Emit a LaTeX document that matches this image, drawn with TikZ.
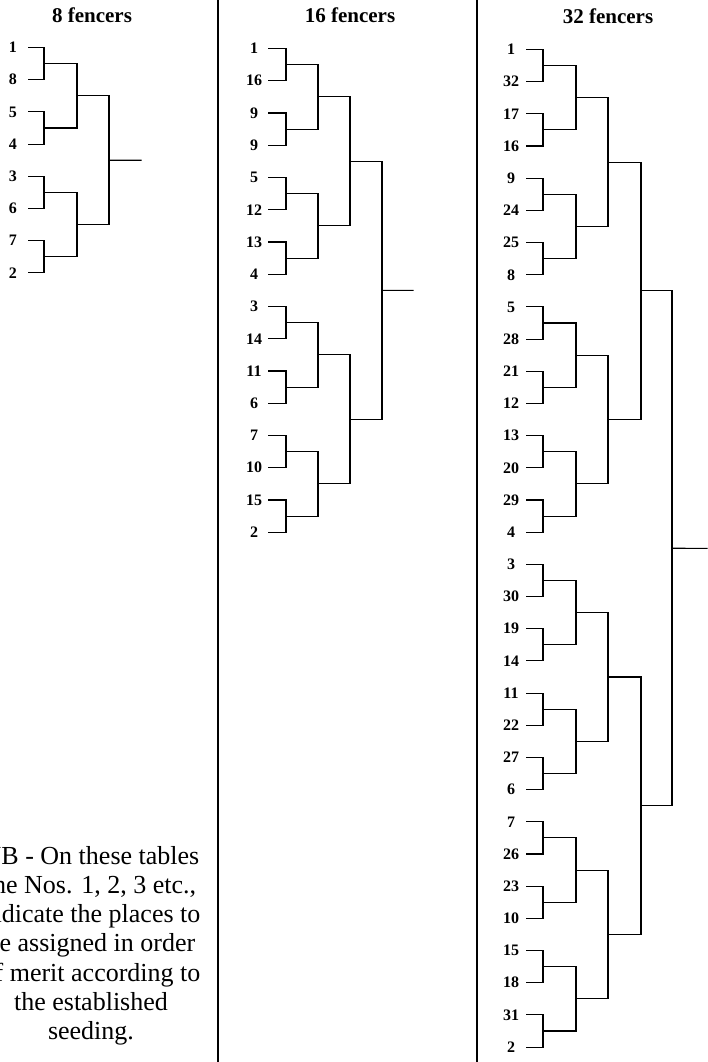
\documentclass[tikz,border=0pt]{standalone}
\usepackage{fontspec}
\setmainfont{Liberation Serif}
\tikzset{
  br/.style={line width=1.1pt, line cap=rect, black},
  divider/.style={line width=2pt, black},
  lab/.style={font=\fontsize{16}{19}\selectfont\bfseries, inner sep=0pt, anchor=center},
  head/.style={font=\fontsize{21}{25}\selectfont\bfseries, inner sep=0pt, anchor=base},
  note/.style={font=\fontsize{26}{29.2}\selectfont, align=center, inner sep=0pt, anchor=north}
}
% #1 prefix, #2 N, #3 y0, #4 row step, #5 x of level columns
\newcommand\mkbracket[5]{%
  \foreach \xx [count=\lv] in {#5} {
    \pgfmathtruncatemacro\nn{#2/2^\lv}
    \pgfmathtruncatemacro\lm{\lv-1}
    \pgfmathtruncatemacro\kmax{\nn-1}
    \foreach \kk in {0,...,\kmax} {
      \pgfmathsetmacro\yy{#3 + #4*(\kk*2^\lv + (2^\lv-1)/2)}
      \pgfmathtruncatemacro\ka{2*\kk}
      \pgfmathtruncatemacro\kb{2*\kk+1}
      \coordinate (#1-\lv-\kk) at (\xx,\yy);
      \draw[br] (#1-\lm-\ka) -| (#1-\lv-\kk);
      \draw[br] (#1-\lm-\kb) -| (#1-\lv-\kk);
    }
  }
}
% #1 prefix, #2 label x, #3 line start x, #4 y0, #5 step, #6 labels
\newcommand\mklabels[6]{%
  \foreach \tt [count=\cc from 0] in {#6} {
    \pgfmathsetmacro\yy{#4 + #5*\cc}
    \node[lab] (#1-l\cc) at (#2,\yy) {\tt};
    \coordinate (#1-0-\cc) at (#3,\yy);
  }
}
\begin{document}
\begin{tikzpicture}[x=1pt,y=-1pt]
\useasboundingbox (0,0) rectangle (707,1062);
% dividers
\coordinate (d1t) at (218,0); \coordinate (d1b) at (218,1062);
\coordinate (d2t) at (477,0); \coordinate (d2b) at (477,1062);
\draw[divider] (d1t) -- (d1b);
\draw[divider] (d2t) -- (d2b);
% headers
\node[head] (h8) at (92,23) {8 fencers};
\node[head] (h16) at (350,23) {16 fencers};
\node[head] (h32) at (608,24) {32 fencers};
% 8 fencers
\mklabels{A}{13}{29}{47.5}{32.2}{1,8,5,4,3,6,7,2}
\mkbracket{A}{8}{47.5}{32.2}{44,77,109}
\coordinate (A-end) at (141,160.2);
\draw[br] (A-3-0) -- (A-end);
% 16 fencers
\mklabels{B}{254}{269}{48.5}{32.25}{1,16,9,9,5,12,13,4,3,14,11,6,7,10,15,2}
\mkbracket{B}{16}{48.5}{32.25}{286,318,350,382}
\coordinate (B-end) at (413,290.4);
\draw[br] (B-4-0) -- (B-end);
% 32 fencers
\mklabels{C}{511}{527}{49.5}{32.18}{1,32,17,16,9,24,25,8,5,28,21,12,13,20,29,4,3,30,19,14,11,22,27,6,7,26,23,10,15,18,31,2}
\mkbracket{C}{32}{49.5}{32.18}{543,576,608,641,672}
\coordinate (C-end) at (707,548.3);
\draw[br] (C-5-0) -- (C-end);
% note (cut off at the left edge, as in the reference)
\begin{scope}
\clip (0,0) rectangle (707,1062);
\node[note] (nb) at (91,846) {NB - On these tables\\the Nos. 1, 2, 3 etc.,\\indicate the places to\\be assigned in order\\of merit according to\\the established\\seeding.};
\end{scope}
\end{tikzpicture}
\end{document}
